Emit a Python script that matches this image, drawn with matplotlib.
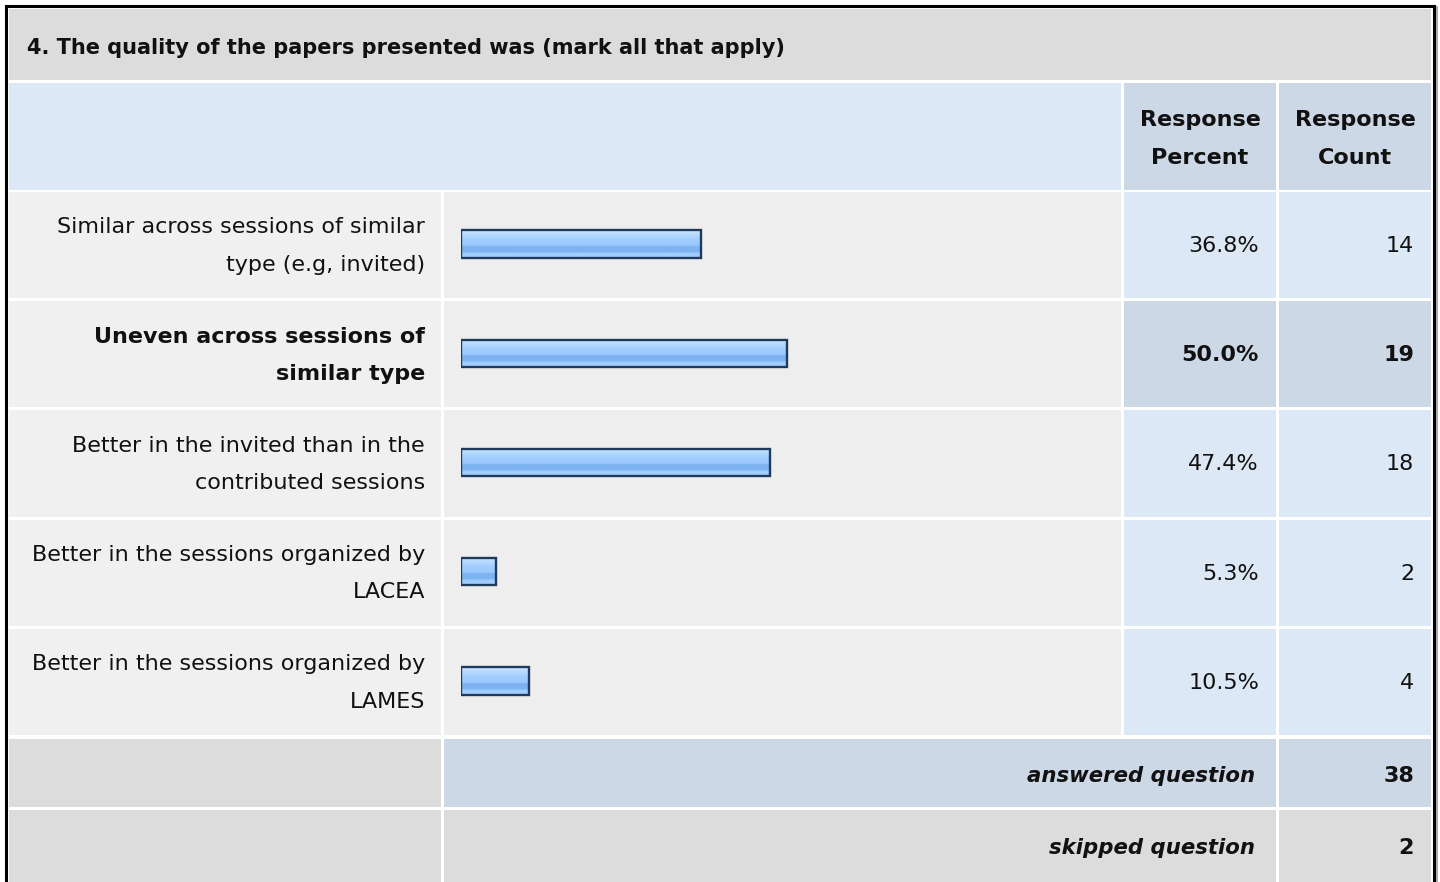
import numpy as np
import matplotlib
matplotlib.use('Agg')
import matplotlib.pyplot as plt
from matplotlib.patches import Rectangle
from matplotlib.colors import LinearSegmentedColormap

# Survey data
question = '4. The quality of the papers presented was (mark all that apply)'
answer_labels = [
    'Similar across sessions of similar\ntype (e.g, invited)',
    'Uneven across sessions of\nsimilar type',
    'Better in the invited than in the\ncontributed sessions',
    'Better in the sessions organized by\nLACEA',
    'Better in the sessions organized by\nLAMES',
]
response_percent = [36.8, 50.0, 47.4, 5.3, 10.5]
response_count = [14, 19, 18, 2, 4]
answered_question = 38
skipped_question = 2

plt.rcParams['font.family'] = ['DejaVu Sans']

W, H = 1440, 882
fig = plt.figure(figsize=(W / 100, H / 100), dpi=100)
fig.patch.set_facecolor('white')
ax = fig.add_axes([0, 0, 1, 1])
ax.set_xlim(0, W)
ax.set_ylim(H, 0)
ax.axis('off')

GRAY = '#dcdcdc'
ROW_BG = '#eeeeee'
LIGHT_BLUE = '#dce8f5'
MID_BLUE = '#cdd8e6'
TXT = '#111111'
FS = 16
LS = 2.08

# column edges (pixels)
c_label = (9, 441)
c_bar = (444, 1121)
c_pct = (1124, 1276)
c_cnt = (1279, 1431)


def cell(x, y, color):
    ax.add_patch(Rectangle((x[0], y[0]), x[1] - x[0], y[1] - y[0],
                           facecolor=color, edgecolor='none', zorder=1))


# highlight the most chosen answer
best = int(np.argmax(response_percent))

# title row
cell((9, 1431), (9, 80), GRAY)
ax.text(27, 48, question, fontsize=15, fontweight='bold', va='center', ha='left', color=TXT)

# header row
cell((9, 1121), (83, 190), LIGHT_BLUE)
cell(c_pct, (83, 190), MID_BLUE)
cell(c_cnt, (83, 190), MID_BLUE)
ax.text(sum(c_pct) / 2, 139, 'Response\nPercent', fontsize=FS, fontweight='bold',
        ha='center', va='center', linespacing=LS, color=TXT)
ax.text(sum(c_cnt) / 2, 139, 'Response\nCount', fontsize=FS, fontweight='bold',
        ha='center', va='center', linespacing=LS, color=TXT)

# answer rows
row_top = 192
row_pitch = 109.2
for i, label in enumerate(answer_labels):
    y0 = row_top + i * row_pitch
    y1 = y0 + row_pitch - 3
    yc = (y0 + y1) / 2
    side = MID_BLUE if i == best else LIGHT_BLUE
    cell(c_label, (y0, y1), '#f0f0f0')
    cell(c_bar, (y0, y1), ROW_BG)
    cell(c_pct, (y0, y1), side)
    cell(c_cnt, (y0, y1), side)
    weight = 'bold' if i == best else 'normal'
    ax.text(425, yc + 1, label, fontsize=FS, fontweight=weight, ha='right', va='center',
            linespacing=LS, color=TXT)
    ax.text(1259, yc + 1, f'{response_percent[i]:.1f}%', fontsize=FS, fontweight=weight,
            ha='right', va='center', color=TXT)
    ax.text(1414, yc + 1, str(response_count[i]), fontsize=FS, fontweight=weight,
            ha='right', va='center', color=TXT)

# footer rows
cell(c_label, (739, 807), GRAY)
cell((444, 1276), (739, 807), MID_BLUE)
cell(c_cnt, (739, 807), MID_BLUE)
ax.text(1255, 776, 'answered question', fontsize=15.3, fontweight='bold', fontstyle='italic',
        ha='right', va='center', color=TXT)
ax.text(1414, 776, str(answered_question), fontsize=FS, fontweight='bold',
        ha='right', va='center', color=TXT)

cell(c_label, (810, 882), GRAY)
cell((444, 1276), (810, 882), GRAY)
cell(c_cnt, (810, 882), GRAY)
ax.text(1255, 848, 'skipped question', fontsize=15.3, fontweight='bold', fontstyle='italic',
        ha='right', va='center', color=TXT)
ax.text(1414, 848, str(skipped_question), fontsize=FS, fontweight='bold',
        ha='right', va='center', color=TXT)

# outer frame
ax.plot([6, 6], [H, 6], color='black', lw=2.2, zorder=5, solid_capstyle='projecting')
ax.plot([6, 1434], [6, 6], color='black', lw=2.2, zorder=5, solid_capstyle='projecting')
ax.plot([1434, 1434], [6, H], color='black', lw=2.2, zorder=5, solid_capstyle='projecting')
ax.plot([1436.5, 1436.5], [7, H], color='#999999', lw=1.2, zorder=5)

# bar area: 0-100 % mapped to 652 px, starting at x=461
bax = fig.add_axes([461 / W, 1 - 735.5 / H, 652 / W, (735.5 - 189.5) / H])
bax.axis('off')
bax.patch.set_alpha(0)

grad_cmap = LinearSegmentedColormap.from_list('bar', [
    (0.00, '#d2e8ff'), (0.15, '#b8dbff'), (0.30, '#a4d0ff'), (0.55, '#9ac9fe'),
    (0.60, '#7db3f1'), (0.78, '#7db3f1'), (0.83, '#9ccbff'), (1.00, '#a8d2ff')])
grad = np.linspace(0, 1, 64).reshape(-1, 1)
bar_h = 0.25
for i, p in enumerate(response_percent):
    bax.imshow(grad, cmap=grad_cmap, aspect='auto', origin='upper',
               extent=(0, p, i + bar_h / 2, i - bar_h / 2), zorder=2, interpolation='bilinear')
bax.barh(range(len(response_percent)), response_percent, height=bar_h, left=0,
         facecolor='none', edgecolor='#1e3a5c', linewidth=1.7, zorder=3)
bax.set_xlim(0, 100)
bax.set_ylim(len(answer_labels) - 0.5, -0.5)

fig.savefig('out.png', dpi=100, facecolor='white')
